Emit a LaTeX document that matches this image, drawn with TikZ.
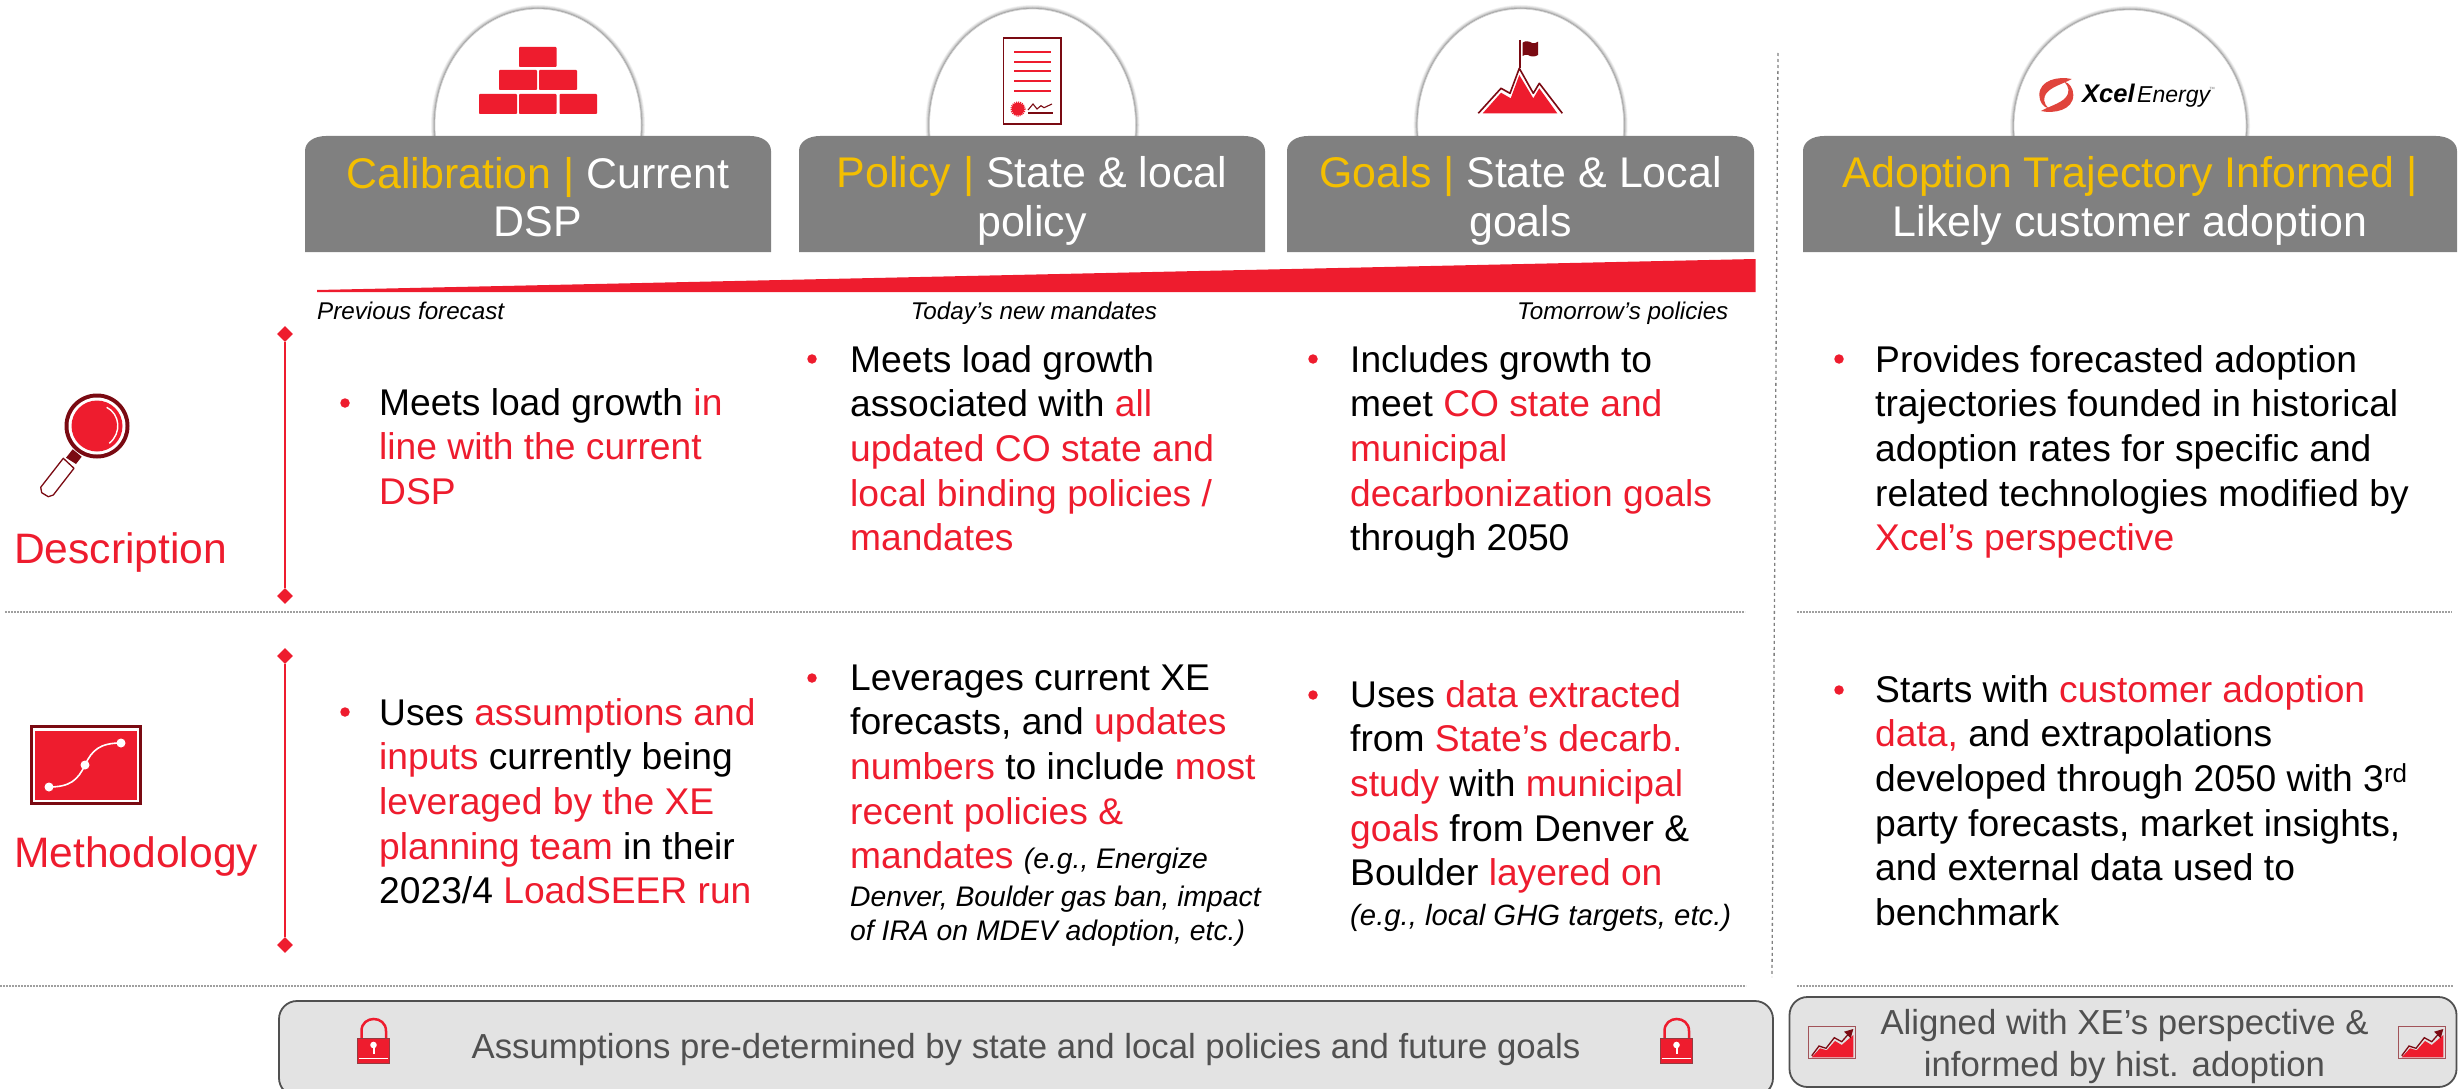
\documentclass[tikz,border=0pt]{standalone}
\usepackage{fontspec}
\setmainfont{Liberation Sans}[Ligatures=ResetAll]
\usetikzlibrary{shapes.geometric}
\definecolor{xred}{HTML}{EE1C2E}
\definecolor{xdark}{HTML}{7A0A12}
\definecolor{xyellow}{HTML}{F4BF00}
\definecolor{hdrgrey}{HTML}{808080}
\definecolor{botfill}{HTML}{E3E3E3}
\definecolor{botedge}{HTML}{505050}
\definecolor{logored}{HTML}{E0443C}
\newcommand{\rd}[1]{\textcolor{xred}{#1}}
\newcommand{\yl}[1]{\textcolor{xyellow}{#1}}
\newcommand{\topfix}{\rule{0pt}{30pt}}
\newcommand{\itfix}{\rule{0pt}{22pt}}
\newcommand{\hdrbox}[2]{\fill[hdrgrey] (#1,252) -- (#1,151) .. controls (#1,142) and ({#1+9},136) .. ({#1+21},136) -- ({#2-21},136) .. controls ({#2-9},136) and (#2,142) .. (#2,151) -- (#2,252) -- cycle;}
\newcommand{\dome}[3]{%
  \foreach \w/\o in {8/.05,6.5/.06,5/.08,3.5/.10,2/.14}{\draw[black,opacity=\o,line width=\w pt] (#1,#3) ellipse [x radius=#2,y radius=116];}
  \fill[white] (#1,#3) ellipse [x radius=#2,y radius=116];
  \draw[gray!35,line width=.7pt] (#1,#3) ellipse [x radius=#2,y radius=116];}
\newcommand{\lockico}{%
  \draw[xred,line width=2.5pt] (361.5,1038) -- (361.5,1031) .. controls (361.5,1015) and (386,1015) .. (386,1031) -- (386,1038);
  \fill[gray!70] (357.3,1037.7) rectangle (390,1040);
  \fill[xred,draw=xdark!80!white,line width=1pt] (357.8,1038.2) rectangle (389.5,1063);
  \fill[white] (373.5,1045) circle (3.3);
  \draw[white,line width=2pt] (373.5,1045) -- (373.5,1054);
  \draw[white,line width=1.2pt] (359,1058.5) -- (388,1058.5);}
\newcommand{\chartico}{%
  \draw[xdark!70!white,line width=1.3pt,fill=botfill] (1808.5,1026.5) rectangle (1855.5,1058.7);
  \fill[xred] (1811.7,1057.3) -- (1820,1048.3) -- (1826.7,1050.3) -- (1835,1041) -- (1841.7,1045) -- (1853.3,1035) -- (1853.3,1057.3) -- cycle;
  \draw[xdark,line width=1.3pt] (1811.7,1055.7) -- (1819,1046) -- (1826,1048.3) -- (1834.3,1037.7) -- (1841.7,1041.7) -- (1850,1032.3);
  \fill[xdark] (1844,1031.7) -- (1853.3,1029) -- (1850.7,1038.3) -- cycle;}
\tikzset{
  hdrtext/.style={font=\fontsize{42.9}{48.6}\selectfont,text=white,align=center,inner sep=0pt},
  bodytext/.style={font=\fontsize{37.2}{44.6}\selectfont,text=black,align=left,anchor=north west,inner sep=0pt},
  ittext/.style={font=\fontsize{28.3}{34}\selectfont\itshape,text=black,align=left,anchor=north west,inner sep=0pt},
  scaletext/.style={font=\fontsize{24.2}{27}\selectfont\itshape,text=black,anchor=base west,inner sep=0pt},
  rowtext/.style={font=\fontsize{42.6}{48}\selectfont,text=xred,anchor=base west,inner sep=0pt},
  bottext/.style={font=\fontsize{34.75}{42}\selectfont,text=botedge,align=center,inner sep=0pt},
  bul/.style={circle,fill=xred,inner sep=0pt,minimum size=9.5pt},
  dia/.style={diamond,fill=xred,inner sep=0pt,minimum size=16pt},
  redrule/.style={draw=xred,line width=2pt},
  rowrule/.style={draw=gray!75,line width=1.6pt,dash pattern=on 1.6pt off 1.4pt},
  seprule/.style={draw=gray,line width=1.3pt,dash pattern=on 3pt off 3pt},
  botbox/.style={draw=botedge,fill=botfill,line width=1.8pt,rounded corners=18pt},
}
\begin{document}
\begin{tikzpicture}[x=1pt,y=-1pt]
\useasboundingbox (0,0) rectangle (2458,1089);
% domes
\dome{538}{103}{125}
\dome{1032.5}{103}{125}
\dome{1520.7}{103}{125}
\dome{2130}{116}{126}
% header boxes
\hdrbox{305}{771}
\hdrbox{799}{1265}
\hdrbox{1287}{1754}
\hdrbox{1803}{2457}
\node[hdrtext] (h1) at (538,197) {\yl{Calibration |} Current\\DSP};
\node[hdrtext] (h2) at (1032,201) {\yl{Policy |} State \& local\\policy};
\node[hdrtext] (h3) at (1520.5,201) {\yl{Goals |} State \& Local\\goals};
\node[hdrtext] (h4) at (2130,201) {\yl{Adoption Trajectory Informed |}\\Likely customer adoption};
% bricks
\foreach \a/\b/\c/\d in {519/47/556.5/67,499/70/537/90,539/70/577/90,479/94/517/114,519/94/556.5/114,559.6/94/597/114}
  \fill[xred,rounded corners=.8pt] (\a,\b) rectangle (\c,\d);
% document
\draw[xdark,line width=1.8pt] (1003.5,38) rectangle (1061,124);
\foreach \yy in {52,62,71,81,91} \draw[xred,line width=2pt] (1014,\yy) -- (1051,\yy);
\fill[xred] (1018,109) circle (6.3);
\draw[xred,line width=1.6pt,dash pattern=on 1pt off 1pt] (1018,109) circle (6.8);
\draw[xdark,line width=1.1pt] (1028,110) -- (1033,104) -- (1037,109) -- (1041,105.7) -- (1044,107.7) -- (1052,104);
\draw[xdark,line width=2pt] (1028,113.5) -- (1053,113.5);
% mountain
\draw[xdark,line width=1.6pt] (1519.7,40) -- (1519.7,68.5);
\fill[xdark] (1522.7,42.7) .. controls (1525,40.5) and (1529,41) .. (1532,43) .. controls (1534,44) and (1536,43) .. (1538,41.7) -- (1538,55) .. controls (1535,57) and (1531,57) .. (1528,55) .. controls (1526,54) and (1524,55) .. (1522.7,56) -- cycle;
\fill[xred] (1482.7,113.3) -- (1501,92.7) -- (1510.7,98.3) -- (1519.3,75) -- (1533.3,98.3) -- (1539.3,88.3) -- (1557.3,113.3) -- cycle;
\draw[xdark,line width=1.6pt,line join=round] (1478.3,113.3) -- (1501,88.3) -- (1510,93.3) -- (1519.3,68.3) -- (1533.3,93.3) -- (1539.3,83.3) -- (1562.3,113.3);
% logo
\foreach \ang in {0,180}{
  \fill[logored,rotate around={\ang:(2056.3,95)}] (2071.7,79) .. controls (2058.3,76) and (2039.3,80) .. (2039.3,95) .. controls (2039.3,101.7) and (2043.3,107.3) .. (2048.3,108.3) .. controls (2043.5,103) and (2042.5,98) .. (2047,92.5) .. controls (2052,86.5) and (2064,83.5) .. (2071.7,79) -- cycle;}
\node[anchor=base west,inner sep=0pt,font=\fontsize{25.5}{26}\selectfont\bfseries\itshape] (xcel) at (2082,103) {Xcel};
\node[anchor=base west,inner sep=0pt,font=\fontsize{23}{26}\selectfont\itshape] (energy) at (2137,103) {Energy};
\node[anchor=base west,inner sep=0pt,font=\fontsize{6}{7}\selectfont,text=gray] (tm) at (2209,92) {™};
% wedge
\fill[xred] (317,290) -- (1755.5,259) -- (1755.5,292) -- (317,292) -- cycle;
\node[scaletext] (s1) at (317,319) {Previous forecast};
\node[scaletext] (s2) at (910.6,319) {Today’s new mandates};
\node[scaletext] (s3) at (1517,319) {Tomorrow’s policies};
% separators
\coordinate (sept) at (1778,53);
\coordinate (sepb) at (1772,977);
\draw[seprule] (sept) -- (sepb);
\coordinate (r1a) at (5,612); \coordinate (r1b) at (1745,612);
\coordinate (r1c) at (1797,612); \coordinate (r1d) at (2452,612);
\coordinate (r2a) at (0,986); \coordinate (r2b) at (1746,986);
\coordinate (r2c) at (1797,986); \coordinate (r2d) at (2453,986);
\draw[rowrule] (r1a) -- (r1b);
\draw[rowrule] (r1c) -- (r1d);
\draw[rowrule] (r2a) -- (r2b);
\draw[rowrule] (r2c) -- (r2d);
% row brackets
\node[dia] (d1t) at (285,334) {};
\node[dia] (d1b) at (285,596) {};
\node[dia] (d2t) at (285,656) {};
\node[dia] (d2b) at (285,945) {};
\draw[redrule] (d1t) -- (d1b);
\draw[redrule] (d2t) -- (d2b);
% magnifier
\fill[xdark] (66,457.7) -- (72.7,449.3) -- (81.7,456.7) -- (76,464) -- cycle;
\draw[xdark,line width=1.3pt,fill=white,line join=round] (63.3,458.3) -- (74,468.3) -- (53.3,495) -- (48.3,496.7) -- (41.7,492.7) -- (40.7,487.3) -- cycle;
\fill[xdark] (97,426) circle (32.5);
\fill[white] (97,426) circle (28.5);
\fill[xred] (97,426) circle (25.5);
\draw[white,line width=1.4pt] (106.7,407.3) .. controls (120,414) and (122,433) .. (109.3,443.3);
\node[rowtext] (desc) at (14,563) {Description};
% methodology icon
\fill[xdark] (29.5,725) rectangle (141.5,805);
\fill[white] (32.5,728) rectangle (138.5,802);
\fill[xred] (35,731) rectangle (137,800);
\draw[white,line width=1.6pt] (49,787) .. controls (70,787) and (78,780) .. (85,765) .. controls (92,750) and (100,743) .. (121,743);
\fill[white] (49,787) circle (4.5) (85,765) circle (4.5) (121,743) circle (4.5);
\node[rowtext] (meth) at (14,867) {Methodology};
% description row
\node[bul] (b11) at (345,403) {};
\node[bodytext] (t11) at (379,385) {\topfix Meets load growth \rd{in}\\\rd{line with the current}\\\rd{DSP}};
\node[bul] (b12) at (812,359) {};
\node[bodytext] (t12) at (850,342) {\topfix Meets load growth\\associated with \rd{all}\\\rd{updated CO state and}\\\rd{local binding policies /}\\\rd{mandates}};
\node[bul] (b13) at (1313,359) {};
\node[bodytext] (t13) at (1350,342) {\topfix Includes growth to\\meet \rd{CO state and}\\\rd{municipal}\\\rd{decarbonization goals}\\through 2050};
\node[bul] (b14) at (1839,359) {};
\node[bodytext] (t14) at (1875,342) {\topfix Provides forecasted adoption\\trajectories founded in historical\\adoption rates for specific and\\related technologies modified by\\\rd{Xcel's perspective}};
% methodology row
\node[bul] (b21) at (345,712) {};
\node[bodytext] (t21) at (379,695) {\topfix Uses \rd{assumptions and}\\\rd{inputs} currently being\\\rd{leveraged by the XE}\\\rd{planning team} in their\\2023/4 \rd{LoadSEER run}};
\node[bul] (b22) at (812,678) {};
\node[bodytext] (t22) at (850,660) {\topfix Leverages current XE\\forecasts, and \rd{updates}\\\rd{numbers} to include \rd{most}\\\rd{recent policies \&}\\\rd{mandates} {\fontsize{28.3}{34}\selectfont\itshape (e.g., Energize}};
\node[ittext] (i22) at (850,884) {\itfix Denver, Boulder gas ban, impact\\of IRA on MDEV adoption, etc.)};
\node[bul] (b23) at (1313,695) {};
\node[bodytext] (t23) at (1350,677) {\topfix Uses \rd{data extracted}\\from \rd{State’s decarb.}\\\rd{study} with \rd{municipal}\\\rd{goals} from Denver \&\\Boulder \rd{layered on}};
\node[ittext,font=\fontsize{29.3}{34}\selectfont\itshape] (i23) at (1350,903) {\itfix (e.g., local GHG targets, etc.)};
\node[bul] (b24) at (1839,690) {};
\node[bodytext] (t24) at (1875,672) {\topfix Starts with \rd{customer adoption}\\\rd{data,} and extrapolations\\developed through 2050 with 3\textsuperscript{rd}\\party forecasts, market insights,\\and external data used to\\benchmark};
% bottom boxes
\draw[botbox] (279,1001) rectangle (1773,1096);
\draw[botbox] (1789.5,997) rectangle (2456.5,1087);
\node[bottext] (bt1) at (1026,1050) {Assumptions pre-determined by state and local policies and future goals};
\node[bottext] (bt2) at (2124.5,1047) {Aligned with XE’s perspective \&\\informed by hist. adoption};
\lockico
\begin{scope}[shift={(1303,0)}]\lockico\end{scope}
\chartico
\begin{scope}[shift={(590,0)}]\chartico\end{scope}
\end{tikzpicture}
\end{document}
